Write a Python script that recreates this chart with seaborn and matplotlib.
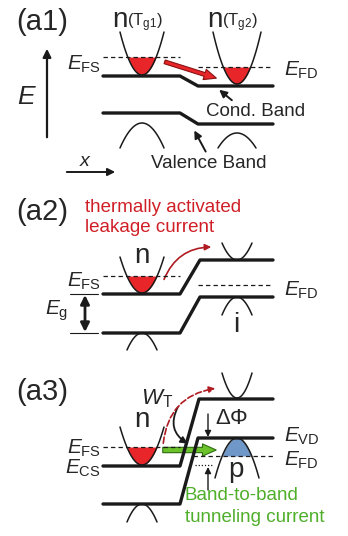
import numpy as np
import pandas as pd
import seaborn as sns
import matplotlib.pyplot as plt
from matplotlib.patches import FancyArrowPatch

sns.set_theme(style="white")
plt.rcParams['font.family'] = ['Liberation Sans', 'DejaVu Sans']
plt.rcParams['mathtext.fontset'] = 'custom'
plt.rcParams['mathtext.rm'] = 'Liberation Sans'
plt.rcParams['mathtext.it'] = 'Liberation Sans:italic'

# band edges (x, y) for each panel, in picture pixels
band_x = {
    'a1': [103, 180, 198, 273],
    'a2': [103, 180, 200, 273],
    'a3': [103, 180, 199, 273],
}
cond_y = {'a1': [76, 76, 86, 86], 'a2': [294, 294, 260, 260], 'a3': [466, 466, 399, 399]}
val_x = {'a1': [103, 180, 198, 273], 'a2': [103, 180, 200, 273], 'a3': [103, 180, 198, 273]}
val_y = {'a1': [113, 113, 124, 124], 'a2': [333, 333, 297, 297], 'a3': [504, 504, 438, 438]}

# parabolas: centre x, vertex y, half width, height, opening (+1 up, -1 down)
parabolas = [
    (142, 75, 22, 43, 1), (237, 84, 24, 52, 1),
    (142, 123, 22, 25, -1), (237, 133, 19, 15, -1),
    (142, 293, 22, 36, 1), (237, 260, 15, 17, 1),
    (237, 297, 15, 18, -1), (142, 333, 15, 17, -1),
    (142, 465, 22, 38, 1), (237, 398, 15, 25, 1),
    (237, 438, 22, 40, -1), (142, 504, 15, 18, -1),
]
# filled pockets: parabola index, fill level, colour
fills = [(0, 57, '#e8262a'), (1, 67, '#e8262a'), (4, 276, '#e8262a'),
         (8, 447, '#e8262a'), (10, 456, '#6f98c9')]

# dashed Fermi levels (x0, x1, y)
fermi = [(103, 180, 57), (198, 273, 67), (103, 180, 276), (198, 273, 285),
         (103, 180, 447), (193, 273, 456)]

fig = plt.figure(figsize=(3.48, 5.36), dpi=100)
ax = fig.add_axes([0, 0, 1, 1])
ax.set_xlim(0, 348)
ax.set_ylim(536, 0)
ax.axis('off')

for p in ['a1', 'a2', 'a3']:
    df = pd.DataFrame({'x': band_x[p], 'y': cond_y[p]})
    sns.lineplot(data=df, x='x', y='y', sort=False, color='k', lw=2.4, ax=ax)
    df = pd.DataFrame({'x': val_x[p], 'y': val_y[p]})
    sns.lineplot(data=df, x='x', y='y', sort=False, color='k', lw=2.4, ax=ax)


def para(xc, yv, hw, h, s):
    xs = np.linspace(xc - hw, xc + hw, 60)
    ys = yv - s * h * ((xs - xc) / hw) ** 2
    return xs, ys


for i, lev, col in fills:
    xc, yv, hw, h, s = parabolas[i]
    xs, ys = para(xc, yv, hw, h, s)
    if s == 1:
        ax.fill_between(xs, ys, lev, where=ys >= lev, color=col, lw=0, interpolate=True)
    else:
        ax.fill_between(xs, ys, lev, where=ys <= lev, color=col, lw=0, interpolate=True)

for xc, yv, hw, h, s in parabolas:
    xs, ys = para(xc, yv, hw, h, s)
    ax.plot(xs, ys, color='k', lw=1.1)

for x0, x1, y in fermi:
    ax.plot([x0, x1], [y, y], color='k', lw=0.9, ls=(0, (3.5, 2.5)))
ax.plot([195, 213], [465, 465], color='k', lw=0.9, ls=(0, (1, 1.5)))


def arrow(p0, p1, style='-|>', col='k', ms=9, lw=1.2, rad=0.0, ls='-', ec=None, shrink=2):
    a = FancyArrowPatch(p0, p1, arrowstyle=style, mutation_scale=ms, lw=lw,
                        color=col, connectionstyle=f'arc3,rad={rad}', linestyle=ls,
                        shrinkA=shrink, shrinkB=shrink)
    if ec is not None:
        a.set_edgecolor(ec)
        a.set_facecolor(col)
    ax.add_patch(a)


fs = 15
big = 20
lab = 13.5
# panel a1
ax.text(16, 22, '(a1)', fontsize=21, va='center')
ax.text(112, 20, 'n', fontsize=big, va='center')
ax.text(127, 23, r'(T$_{\rm g1}$)', fontsize=12, va='center')
ax.text(207, 20, 'n', fontsize=big, va='center')
ax.text(222, 23, r'(T$_{\rm g2}$)', fontsize=12, va='center')
ax.text(101, 64, r'$E_{\rm FS}$', fontsize=fs, ha='right', va='center')
ax.text(284, 70, r'$E_{\rm FD}$', fontsize=fs, ha='left', va='center')
ax.text(206, 112, 'Cond. Band', fontsize=lab, va='center')
ax.text(151, 164, 'Valence Band', fontsize=lab, va='center')
ax.text(27, 97, r'$E$', fontsize=19, ha='center', va='center')
ax.text(86, 162, r'$x$', fontsize=14, ha='center', va='center')
arrow((47, 140), (47, 46), ms=12, lw=1.6)
arrow((64, 172), (118, 172), ms=11, lw=1.4)
arrow((162, 61), (219, 79), style='simple,head_width=0.7,head_length=0.8,tail_width=0.25',
      col='#e8262a', ms=11, lw=0.8, ec='#8a1010')
arrow((234, 102), (217, 88), ms=11, lw=1.4)
arrow((207, 154), (193, 128), ms=11, lw=1.4)

# panel a2
ax.text(16, 212, '(a2)', fontsize=21, va='center')
ax.text(85, 207, 'thermally activated', fontsize=lab, color='#d01f26', va='center')
ax.text(85, 228, 'leakage current', fontsize=lab, color='#d01f26', va='center')
ax.text(142, 256, 'n', fontsize=big, ha='center', va='center')
ax.text(101, 281, r'$E_{\rm FS}$', fontsize=fs, ha='right', va='center')
ax.text(284, 290, r'$E_{\rm FD}$', fontsize=fs, ha='left', va='center')
ax.text(236, 325, 'i', fontsize=big, ha='center', va='center')
ax.text(57, 311, r'$E_{\rm g}$', fontsize=fs, ha='center', va='center')
ax.plot([70, 98], [294, 294], color='k', lw=0.8)
ax.plot([70, 98], [333, 333], color='k', lw=0.8)
arrow((85, 295), (85, 332), style='<|-|>', ms=13, lw=2.0, shrink=0)
arrow((163, 282), (214, 247), col='#b01c22', ms=9, lw=1.2, rad=-0.35)

# panel a3
ax.text(16, 392, '(a3)', fontsize=21, va='center')
ax.text(142, 420, 'n', fontsize=big, ha='center', va='center')
ax.text(101, 448, r'$E_{\rm FS}$', fontsize=fs, ha='right', va='center')
ax.text(101, 468, r'$E_{\rm CS}$', fontsize=fs, ha='right', va='center')
ax.text(284, 436, r'$E_{\rm VD}$', fontsize=fs, ha='left', va='center')
ax.text(284, 460, r'$E_{\rm FD}$', fontsize=fs, ha='left', va='center')
ax.text(236, 470, 'p', fontsize=big, ha='center', va='center')
ax.text(157, 399, r'$W_{\rm T}$', fontsize=16, ha='center', va='center')
ax.text(215, 418, r'$\Delta\Phi$', fontsize=16, ha='left', va='center')
arrow((208, 414), (208, 437), ms=9, lw=1.0, shrink=0)
arrow((208, 490), (208, 467), ms=9, lw=1.0, shrink=0)
arrow((179, 405), (190, 445), ms=10, lw=1.3, rad=0.5)
arrow((163, 446), (218, 388), col='#b01c22', ms=9, lw=1.2, rad=-0.4, ls='--')
arrow((160, 450), (219, 450), style='simple,head_width=0.8,head_length=0.9,tail_width=0.35',
      col='#6cc22a', ms=11, lw=0.8, ec='#2d6b10')
ax.text(185, 496, 'Band-to-band', fontsize=lab, color='#4fae2a', va='center')
ax.text(185, 518, 'tunneling current', fontsize=lab, color='#4fae2a', va='center')

fig.savefig('out.png', dpi=100)
